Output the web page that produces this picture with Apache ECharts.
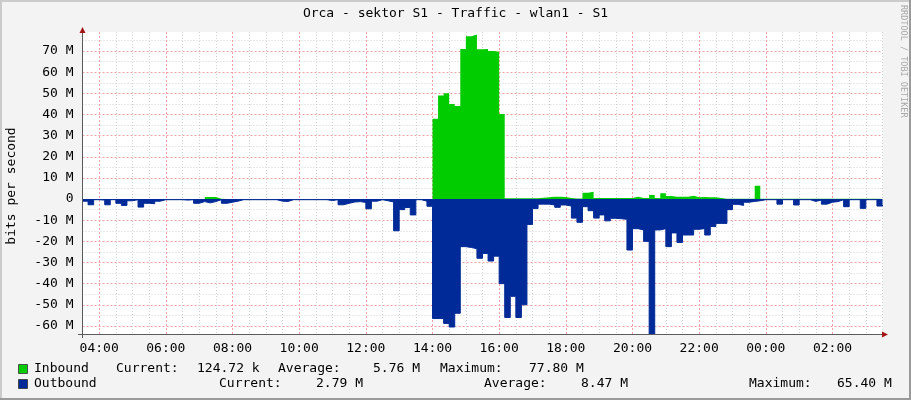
<!DOCTYPE html>
<html>
<head>
<meta charset="utf-8">
<script src="https://cdn.jsdelivr.net/npm/echarts@6/dist/echarts.min.js"></script>
<style>
html,body{margin:0;padding:0;background:#f3f3f3;}
#c{width:911px;height:400px;}
</style>
</head>
<body>
<div id="c"></div>
<script>
// ---- data (Mbit/s), one sample every 10 minutes starting 03:30 ----
const startMinute = 210;
const stepMinutes = 10;

const inbound = [
  0.05,0.05,0.05,0.05,0.05,0.05,0.05,0.05,0.05,0.05,
  0.05,0.05,0.05,0.05,0.05,0.05,0.05,0.05,0.05,0.05,
  0.05,0.05,1.0,1.0,0.2,0.05,0.05,0.05,0.05,0.05,
  0.05,0.05,0.05,0.05,0.05,0.05,0.05,0.05,0.05,0.05,
  0.05,0.05,0.05,0.05,0.05,0.05,0.05,0.05,0.05,0.05,
  0.05,0.05,0.05,0.05,0.05,0.05,0.05,0.05,0.05,0.05,
  0.05,0.05,0.05,38,49,50,45,44,71,77,
  77.8,70.8,71,70,69.7,40.2,0.4,0.4,0.4,0.4,
  0.4,0.4,0.6,0.8,1.1,1.1,1.0,0.5,0.3,0.3,
  3.0,3.5,0.5,0.5,0.5,0.5,0.5,0.5,0.5,1.1,
  0.5,0.5,1.9,0.5,2.7,1.5,1.1,1.1,1.1,1.6,
  0.8,1.0,0.8,0.8,0.5,0.1,0.1,0.1,0.1,0.1,
  0.1,6.3,0.1,0.1,0.1,0.1,0.1,0.1,0.1,0.1,
  0.1,0.1,0.1,0.1,0.1,0.1,0.1,0.1,0.1,0.1,
  0.1,0.1,0.1,0.1,0.125
];

const outbound = [
  -1.0,-2.7,-0.3,-0.5,-2.7,-0.3,-2.0,-3.0,-0.8,-0.3,
  -3.8,-2.0,-2.2,-1.0,-0.3,-0.3,-0.3,-0.3,-0.5,-0.3,
  -2.0,-1.2,-1.8,-1.2,-0.3,-2.0,-1.5,-1.0,-0.3,-0.3,
  -0.3,-0.3,-0.3,-0.3,-0.3,-1.0,-1.1,-0.3,-0.3,-0.3,
  -0.3,-0.3,-0.3,-0.3,-0.7,-0.3,-2.7,-2.0,-1.4,-1.2,
  -1.6,-4.6,-1.0,-0.3,-0.8,-1.4,-15.0,-5.0,-4.0,-7.5,
  -0.3,-1.0,-3.4,-56.5,-56.5,-58.8,-60.5,-54.0,-22.5,-22.9,
  -23.5,-28.0,-25.7,-29.3,-27.0,-40.0,-56.0,-46.0,-56.0,-50.0,
  -12.0,-4.5,-2.4,-2.4,-2.8,-3.9,-2.8,-3.3,-9.0,-11.0,
  -3.6,-5.5,-9.0,-7.5,-10.3,-9.1,-9.3,-9.6,-24.1,-14.0,
  -14.6,-20.0,-65.4,-14.6,-14.0,-22.5,-16.0,-20.5,-17.0,-17.0,
  -14.3,-14.0,-17.0,-13.0,-11.5,-11.5,-5.0,-2.5,-3.0,-1.5,
  -1.1,-0.8,-0.3,-0.3,-0.3,-2.4,-0.3,-0.3,-2.8,-0.3,
  -0.3,-1.1,-0.5,-2.4,-1.5,-1.2,-0.3,-3.6,-0.3,-0.3,
  -4.4,-0.3,-0.3,-3.3,-2.79
];

// ---- tick labels ----
const xTickMinutes = [240,360,480,600,720,840,960,1080,1200,1320,1440,1560];
const xTickLabels = ['04:00','06:00','08:00','10:00','12:00','14:00','16:00','18:00','20:00','22:00','00:00','02:00'];
const yTickValues = [-60,-50,-40,-30,-20,-10,0,10,20,30,40,50,60,70];
const yTickLabels = ['-60 M','-50 M','-40 M','-30 M','-20 M','-10 M','0','10 M','20 M','30 M','40 M','50 M','60 M','70 M'];

// ---- legend ----
const legendNames = ['Inbound','Outbound'];
const legendColors = ['#00CC00','#002A97'];
const legendCurrent = ['124.72 k','2.79 M'];
const legendAverage = ['5.76 M','8.47 M'];
const legendMaximum = ['77.80 M','65.40 M'];

const titleText = 'Orca - sektor S1 - Traffic - wlan1 - S1';
const yAxisTitle = 'bits per second';
const watermark = 'RRDTOOL / TOBI OETIKER';

// ---- styles ----
const FONT = 'DejaVu Sans Mono';
const GREY = '#d2d2d2';
const RED = '#f2a2a2';
const T = 'transparent';
const xMinorColors = [GREY, T, GREY, GREY];
const xMajorColors = [T, RED, T, T];
const yMinorColors = [T,T,T,T,T,T,T,T,T,GREY];
const yMajorColors = [T,T,T,T,RED,T,T,T,T,T];

function toPairs(arr){ return arr.map((v,i)=>[startMinute + i*stepMinutes, v]); }

const chart = echarts.init(document.getElementById('c'), null, {renderer:'canvas'});

const legendGraphics = [];
const rowY = [369, 384];
const pos = [
  {cur:[116,197], avg:[278,373], max:[440,529]},
  {cur:[219,316], avg:[484,581], max:[749,837]}
];
const txt = (x,y,s,extra) => Object.assign({type:'text', x:x, y:y, style:{text:s, font:'13px "'+FONT+'"', fill:'#000', verticalAlign:'middle', align:'left'}}, extra||{});
for (let i=0;i<2;i++){
  const y = rowY[i];
  legendGraphics.push({type:'rect', shape:{x:18.5,y:y-4.5,width:9,height:9}, style:{fill:legendColors[i], stroke:'#333', lineWidth:0.8}});
  legendGraphics.push(txt(34,y,legendNames[i]));
  legendGraphics.push(txt(pos[i].cur[0],y,'Current:'));
  legendGraphics.push(txt(pos[i].cur[1],y,legendCurrent[i]));
  legendGraphics.push(txt(pos[i].avg[0],y,'Average:'));
  legendGraphics.push(txt(pos[i].avg[1],y,legendAverage[i]));
  legendGraphics.push(txt(pos[i].max[0],y,'Maximum:'));
  legendGraphics.push(txt(pos[i].max[1],y,legendMaximum[i]));
}

const option = {
  animation: false,
  backgroundColor: '#f3f3f3',
  grid: {left: 82.5, right: 28.5, top: 32, bottom: 65.6, show: true, backgroundColor: '#ffffff', borderWidth: 0, containLabel: false},
  xAxis: [
    {type:'value', min:210, max:1650, interval:30, position:'bottom',
     axisLine:{show:true, onZero:false, lineStyle:{color:'#5a5a5a', width:1}},
     axisTick:{show:false},
     axisLabel:{margin:8, color:'#000', fontFamily:FONT, fontSize:13,
       formatter:function(v){ const i = xTickMinutes.indexOf(Math.round(v)); return i>=0 ? xTickLabels[i] : ''; }},
     splitLine:{show:true, lineStyle:{color:xMinorColors, type:[1,2], width:1}}},
    {type:'value', min:210, max:1650, interval:30, position:'bottom',
     axisLine:{show:false}, axisTick:{show:false}, axisLabel:{show:false},
     splitLine:{show:true, lineStyle:{color:xMajorColors, type:[2,2], width:1}}}
  ],
  yAxis: [
    {type:'value', min:-64, max:79, interval:1,
     axisLine:{show:true, onZero:false, lineStyle:{color:'#5a5a5a', width:1}},
     axisTick:{show:false},
     axisLabel:{margin:9, color:'#000', fontFamily:FONT, fontSize:13,
       formatter:function(v){ const i = yTickValues.indexOf(Math.round(v)); return (i>=0 && Math.abs(v-Math.round(v))<1e-6) ? yTickLabels[i] : ''; }},
     splitLine:{show:true, lineStyle:{color:yMinorColors, type:[1,2], width:1}}},
    {type:'value', min:-64, max:79, interval:1,
     axisLine:{show:false}, axisTick:{show:false}, axisLabel:{show:false},
     splitLine:{show:true, lineStyle:{color:yMajorColors, type:[2,2], width:1}}}
  ],
  series: [
    {type:'line', name:legendNames[0], xAxisIndex:0, yAxisIndex:0, data:toPairs(inbound), step:'end',
     symbol:'none', showSymbol:false, lineStyle:{width:0, color:legendColors[0]},
     itemStyle:{color:legendColors[0]}, areaStyle:{color:legendColors[0], opacity:1}, z:3, silent:true},
    {type:'line', name:legendNames[1], xAxisIndex:0, yAxisIndex:0, data:toPairs(outbound), step:'end',
     symbol:'none', showSymbol:false, lineStyle:{width:1, color:legendColors[1]},
     itemStyle:{color:legendColors[1]}, areaStyle:{color:legendColors[1], opacity:1}, z:4, silent:true}
  ],
  graphic: [
    {type:'rect', shape:{x:0,y:0,width:911,height:2}, style:{fill:'#cbcbcb'}, z:100},
    {type:'rect', shape:{x:0,y:0,width:2,height:400}, style:{fill:'#cbcbcb'}, z:100},
    {type:'rect', shape:{x:0,y:398,width:911,height:2}, style:{fill:'#9a9a9a'}, z:100},
    {type:'rect', shape:{x:909,y:0,width:2,height:400}, style:{fill:'#9a9a9a'}, z:100},
    {type:'text', x:455.5, y:14, style:{text:titleText, font:'13px "'+FONT+'"', fill:'#000', align:'center', verticalAlign:'middle'}},
    {type:'text', x:12, y:186, rotation:Math.PI/2, style:{text:yAxisTitle, font:'13px "'+FONT+'"', fill:'#000', align:'center', verticalAlign:'middle'}},
    {type:'text', x:903, y:5, rotation:-Math.PI/2, style:{text:watermark, font:'8.5px "'+FONT+'"', fill:'#a8a8a8', align:'left', verticalAlign:'middle'}},
    {type:'line', shape:{x1:78, y1:334.5, x2:883, y2:334.5}, style:{stroke:'#5a5a5a', lineWidth:1}, z:50},
    {type:'line', shape:{x1:82.5, y1:338, x2:82.5, y2:30}, style:{stroke:'#5a5a5a', lineWidth:1}, z:50},
    {type:'polygon', shape:{points:[[882,331.5],[888,334.5],[882,337.5]]}, style:{fill:'#a31515'}, z:51},
    {type:'polygon', shape:{points:[[79.5,33],[82.5,27],[85.5,33]]}, style:{fill:'#a31515'}, z:51}
  ].concat(legendGraphics)
};
chart.setOption(option);
</script>
</body>
</html>
